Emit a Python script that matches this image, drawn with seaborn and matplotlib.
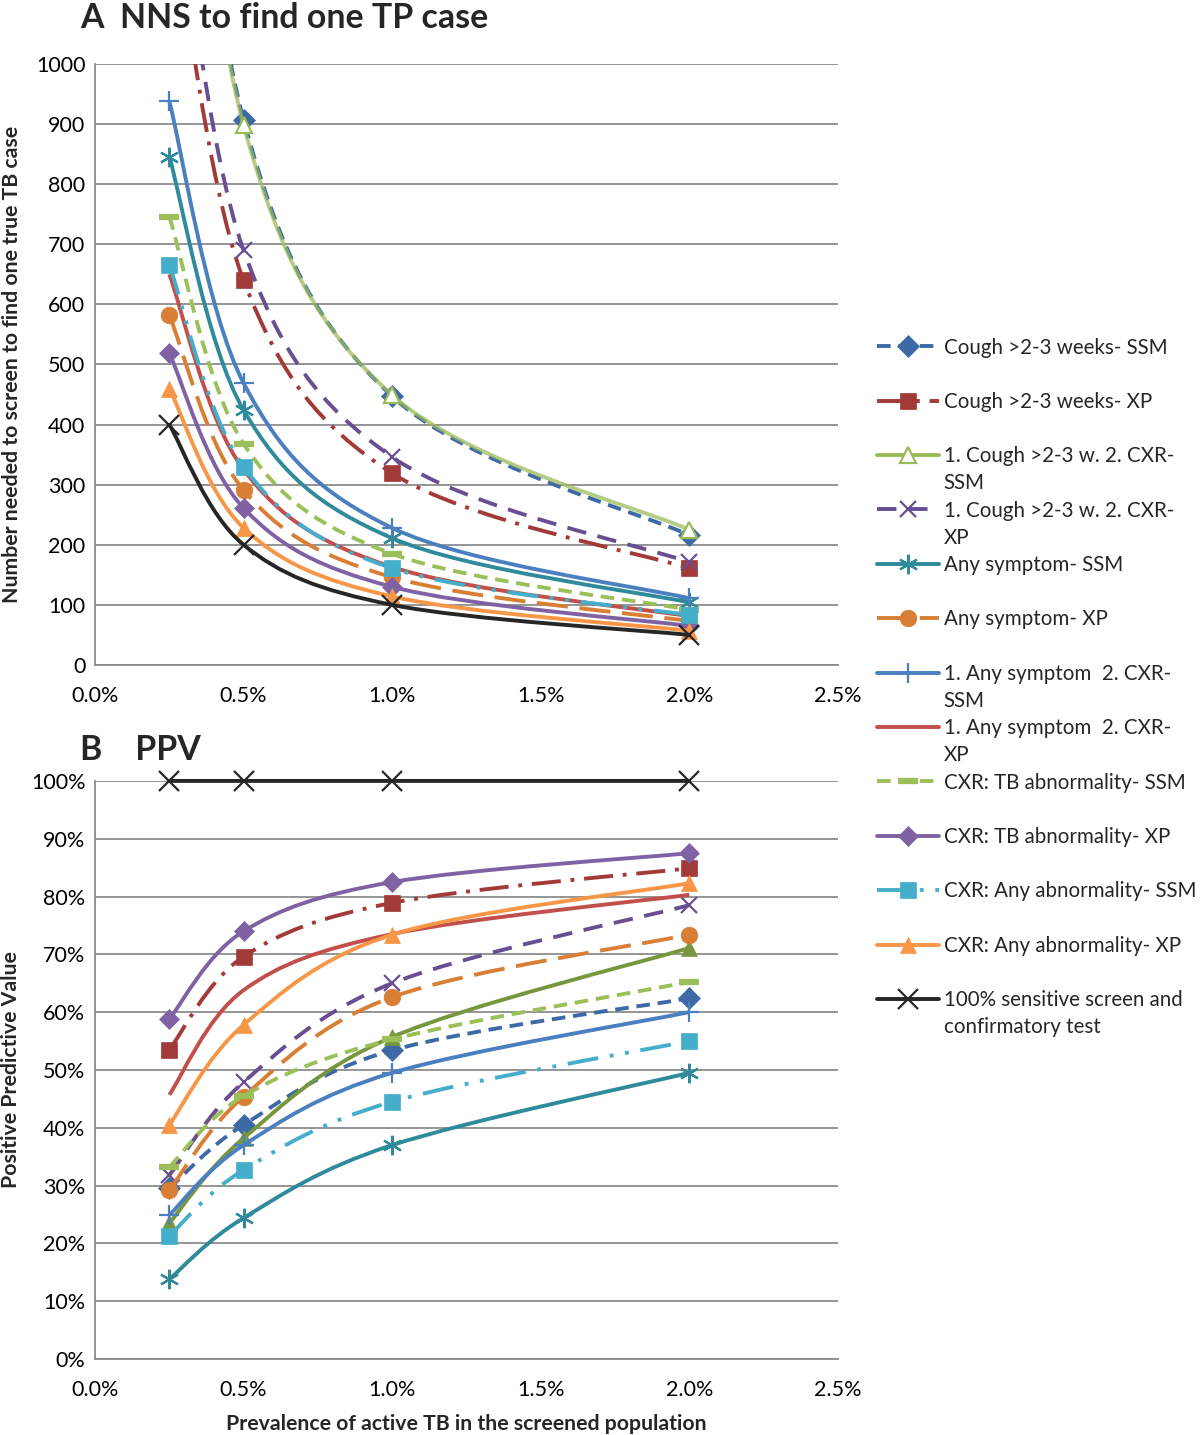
"""
NNS and PPV of TB screening algorithms across prevalence levels (two panels).
"""
import numpy as np
import pandas as pd
import matplotlib
matplotlib.use("Agg")
import matplotlib.pyplot as plt
from matplotlib.path import Path
from matplotlib.patches import PathPatch
from matplotlib.lines import Line2D
from matplotlib.ticker import FuncFormatter, MultipleLocator
import seaborn as sns

# Prevalence of active TB in the screened population
prevalence = [0.0025, 0.005, 0.01, 0.02]

series_labels = [
    "Cough >2-3 weeks- SSM",
    "Cough >2-3 weeks- XP",
    "1. Cough >2-3 w. 2. CXR-\nSSM",
    "1. Cough >2-3 w. 2. CXR-\nXP",
    "Any symptom- SSM",
    "Any symptom- XP",
    "1. Any symptom  2. CXR-\nSSM",
    "1. Any symptom  2. CXR-\nXP",
    "CXR: TB abnormality- SSM",
    "CXR: TB abnormality- XP",
    "CXR: Any abnormality- SSM",
    "CXR: Any abnormality- XP",
    "100% sensitive screen and\nconfirmatory test",
]

# Panel A: number needed to screen (values above 1000 are off the chart, estimated)
nns_cough_ssm = [1814, 907, 447, 216]
nns_cough_xp = [1280, 640, 319, 161]
nns_cough_cxr_ssm = [1796, 898, 449, 225]
nns_cough_cxr_xp = [1380, 690, 346, 171]
nns_any_ssm = [846, 424, 211, 104]
nns_any_xp = [582, 291, 146, 73]
nns_any_cxr_ssm = [938, 469, 228, 111]
nns_any_cxr_xp = [650, 325, 163, 81]
nns_cxr_tb_ssm = [746, 368, 185, 92]
nns_cxr_tb_xp = [519, 261, 130, 65]
nns_cxr_any_ssm = [666, 330, 161, 83]
nns_cxr_any_xp = [460, 228, 114, 57]
nns_perfect = [400, 200, 100, 50]

# Panel B: positive predictive value
ppv_cough_ssm = [0.295, 0.405, 0.534, 0.624]
ppv_cough_xp = [0.535, 0.696, 0.789, 0.849]
ppv_cough_cxr_ssm = [0.235, 0.382, 0.557, 0.711]
ppv_cough_cxr_xp = [0.318, 0.479, 0.650, 0.785]
ppv_any_ssm = [0.138, 0.244, 0.370, 0.495]
ppv_any_xp = [0.292, 0.454, 0.626, 0.734]
ppv_any_cxr_ssm = [0.249, 0.370, 0.495, 0.600]
ppv_any_cxr_xp = [0.457, 0.638, 0.735, 0.803]
ppv_cxr_tb_ssm = [0.332, 0.455, 0.553, 0.652]
ppv_cxr_tb_xp = [0.588, 0.740, 0.825, 0.875]
ppv_cxr_any_ssm = [0.213, 0.327, 0.445, 0.550]
ppv_cxr_any_xp = [0.405, 0.578, 0.734, 0.823]
ppv_perfect = [1.0, 1.0, 1.0, 1.0]

nns_series = [nns_cough_ssm, nns_cough_xp, nns_cough_cxr_ssm, nns_cough_cxr_xp,
              nns_any_ssm, nns_any_xp, nns_any_cxr_ssm, nns_any_cxr_xp,
              nns_cxr_tb_ssm, nns_cxr_tb_xp, nns_cxr_any_ssm, nns_cxr_any_xp,
              nns_perfect]
ppv_series = [ppv_cough_ssm, ppv_cough_xp, ppv_cough_cxr_ssm, ppv_cough_cxr_xp,
              ppv_any_ssm, ppv_any_xp, ppv_any_cxr_ssm, ppv_any_cxr_xp,
              ppv_cxr_tb_ssm, ppv_cxr_tb_xp, ppv_cxr_any_ssm, ppv_cxr_any_xp,
              ppv_perfect]

# Styles: colour, dash pattern (None = solid), marker, marker size, filled
styles = [
    dict(color="#3D6AA6", dashes=(3.5, 2), marker="D", ms=11, fill=True),
    dict(color="#A23B38", dashes=(7.5, 2.5, 1, 2.5), marker="s", ms=11.5, fill=True),
    dict(color="#9BBB59", dashes=None, marker="^", ms=11.5, fill=False),
    dict(color="#684F92", dashes=(5, 3), marker="x", ms=12, fill=False),
    dict(color="#2F8A9C", dashes=None, marker=(6, 2, 0), ms=14, fill=False),
    dict(color="#D87E35", dashes=(8, 3), marker="o", ms=12, fill=True),
    dict(color="#4A7FC0", dashes=None, marker="+", ms=15, fill=False),
    dict(color="#C24F4B", dashes=None, marker=None, ms=0, fill=False),
    dict(color="#9BBF59", dashes=(3.5, 2), marker="_", ms=14, fill=False),
    dict(color="#7F62A3", dashes=None, marker="D", ms=10, fill=True),
    dict(color="#45AECB", dashes=(8, 3, 1, 3, 1, 3), marker="s", ms=12, fill=True),
    dict(color="#F79646", dashes=None, marker="^", ms=12, fill=True),
    dict(color="#262626", dashes=None, marker="x", ms=14, fill=False),
]
LW = 2.8
GRID = "#8C8C8C"


def smooth_path(xs, ys):
    """Excel-style smoothed line: cubic Bezier through the data points."""
    pts = np.column_stack([xs, ys]).astype(float)
    n = len(pts)
    verts = [pts[0]]
    codes = [Path.MOVETO]
    for i in range(n - 1):
        p_prev = pts[max(i - 1, 0)]
        p0, p1 = pts[i], pts[i + 1]
        p_next = pts[min(i + 2, n - 1)]
        verts += [p0 + (p1 - p_prev) / 6, p1 - (p_next - p0) / 6, p1]
        codes += [Path.CURVE4] * 3
    return Path(verts, codes)


def marker_kws(st, color):
    if st["marker"] in ("x", "+", "_") or isinstance(st["marker"], tuple):
        mew = 4.5 if st["marker"] == "_" else 1.6
        return dict(marker=st["marker"], markersize=st["ms"], markeredgecolor=color,
                    markerfacecolor=color, markeredgewidth=mew)
    face = color if st["fill"] else "white"
    return dict(marker=st["marker"], markersize=st["ms"], markeredgecolor=color,
                markerfacecolor=face, markeredgewidth=1.6 if not st["fill"] else 0.5)


def draw_panel(ax, values, green_override=None, clip=True):
    for i, (vals, st) in enumerate(zip(values, styles)):
        color = st["color"]
        fill = st["fill"]
        if i == 2 and green_override is not None:
            color = green_override
            fill = True
        z = 3 + i * 0.05
        patch = PathPatch(smooth_path(prevalence, vals), fill=False, edgecolor=color,
                          lw=LW, zorder=z, capstyle="butt", joinstyle="round")
        if st["dashes"] is not None:
            patch.set_linestyle((0, st["dashes"]))
        if i == 2 and green_override is None:
            patch.set_alpha(0.75)
        patch.set_clip_on(clip)
        ax.add_patch(patch)
        if st["marker"] is None:
            continue
        df = pd.DataFrame({"prev": prevalence, "val": vals})
        st2 = dict(st, fill=fill)
        sns.lineplot(data=df, x="prev", y="val", ax=ax, linestyle="", zorder=z + 0.01,
                     legend=False, clip_on=clip, **marker_kws(st2, color))


def style_axis(ax):
    ax.set_xlim(0, 0.025)
    ax.xaxis.set_major_locator(MultipleLocator(0.005))
    ax.xaxis.set_major_formatter(FuncFormatter(lambda v, p: f"{v * 100:.1f}%"))
    for side in ("top", "right"):
        ax.spines[side].set_visible(False)
    for side in ("left", "bottom"):
        ax.spines[side].set_color(GRID)
        ax.spines[side].set_linewidth(1.3)
    ax.yaxis.grid(True, color=GRID, lw=1.3)
    ax.xaxis.grid(False)
    ax.set_axisbelow(True)
    ax.tick_params(direction="out", length=4, width=1.3, color=GRID,
                   labelsize=15.5, labelcolor="black")
    ax.tick_params(axis="y", pad=3)
    ax.tick_params(axis="x", pad=11)


sns.set_style("white")
plt.rcParams["font.family"] = ["Lato", "DejaVu Sans"]

fig = plt.figure(figsize=(12, 14.35), dpi=100)
ax_a = fig.add_axes([0.0792, 0.5366, 0.619, 0.4188])
ax_b = fig.add_axes([0.0792, 0.053, 0.619, 0.4028])

# Panel A
draw_panel(ax_a, nns_series)
style_axis(ax_a)
ax_a.set_ylim(0, 1000)
ax_a.yaxis.set_major_locator(MultipleLocator(100))
ax_a.set_xlabel("")
ax_a.set_ylabel("Number needed to screen to find one true TB case",
                fontsize=15.3, fontweight="bold")
ax_a.yaxis.set_label_coords(-0.098, 0.5)

# Panel B
draw_panel(ax_b, ppv_series, green_override="#77963D", clip=False)
style_axis(ax_b)
ax_b.set_ylim(0, 1)
ax_b.yaxis.set_major_locator(MultipleLocator(0.1))
ax_b.yaxis.set_major_formatter(FuncFormatter(lambda v, p: f"{v * 100:.0f}%"))
ax_b.set_xlabel("Prevalence of active TB in the screened population",
                fontsize=15.3, fontweight="bold", labelpad=10)
ax_b.set_ylabel("Positive Predictive Value", fontsize=15.3, fontweight="bold")
ax_b.yaxis.set_label_coords(-0.1, 0.5)

fig.text(80 / 1200, 1 - 18 / 1435, "A  NNS to find one TP case", fontsize=24.4,
         fontweight="bold", va="center", ha="left")
fig.text(80 / 1200, 1 - 750 / 1435, "B    PPV", fontsize=24.4,
         fontweight="bold", va="center", ha="left")

# Legend: one row per text line so wrapped labels keep the handle on the first line
handles, labels = [], []
for st, lab in zip(styles, series_labels):
    kws = {}
    if st["marker"] is not None:
        kws = marker_kws(st, st["color"])
    ls = (0, st["dashes"]) if st["dashes"] is not None else "-"
    handles.append(Line2D([0], [0], color=st["color"], lw=LW, linestyle=ls, **kws))
    lines = lab.split("\n")
    labels.append(lines[0])
    handles.append(Line2D([], [], linestyle="none"))
    labels.append(lines[1] if len(lines) > 1 else " ")

fig.legend(handles, labels, loc="upper left", bbox_to_anchor=(877 / 1200, 1 - 337.5 / 1435),
           frameon=False, fontsize=14.8, handlelength=3.0, handletextpad=0.25,
           labelspacing=0.35, borderpad=0, borderaxespad=0, numpoints=1)

fig.savefig("out.png", dpi=100)
